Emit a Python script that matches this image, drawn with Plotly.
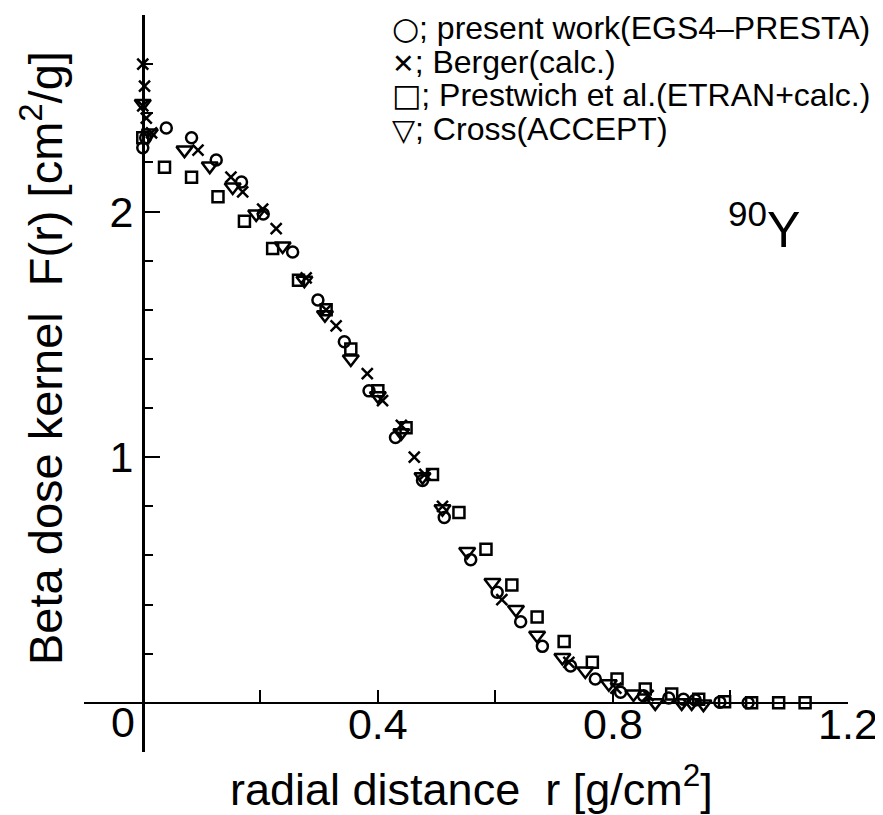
import plotly.graph_objects as go

# ---- data ----
r_present = [0.0, 0.005, 0.04, 0.083, 0.125, 0.168, 0.205, 0.255, 0.298, 0.343, 0.385, 0.43,
             0.476, 0.513, 0.558, 0.603, 0.643, 0.68, 0.728, 0.77, 0.813, 0.852, 0.895, 0.92,
             0.94, 0.982, 1.03]
F_present = [2.26, 2.30, 2.34, 2.30, 2.21, 2.12, 1.99, 1.835, 1.64, 1.47, 1.27, 1.08,
             0.905, 0.755, 0.583, 0.45, 0.33, 0.23, 0.15, 0.097, 0.043, 0.029, 0.02, 0.015,
             0.012, 0.003, 0.0]

r_berger = [0.0, 0.003, 0.0, 0.006, 0.015, 0.094, 0.15, 0.17, 0.204, 0.227, 0.278, 0.312,
            0.329, 0.382, 0.408, 0.44, 0.462, 0.48, 0.51, 0.611, 0.725, 0.805, 0.86]
F_berger = [2.60, 2.51, 2.43, 2.38, 2.32, 2.25, 2.14, 2.08, 2.01, 1.93, 1.73, 1.60,
            1.535, 1.34, 1.23, 1.13, 1.00, 0.93, 0.80, 0.42, 0.165, 0.06, 0.03]

r_prestwich = [0.0, 0.037, 0.083, 0.128, 0.173, 0.221, 0.265, 0.312, 0.354, 0.40, 0.448, 0.493,
               0.538, 0.584, 0.628, 0.671, 0.717, 0.765, 0.807, 0.855, 0.90, 0.946, 0.99,
               1.036, 1.082, 1.127]
F_prestwich = [2.30, 2.18, 2.14, 2.06, 1.96, 1.85, 1.72, 1.60, 1.44, 1.27, 1.12, 0.93,
               0.775, 0.625, 0.48, 0.35, 0.25, 0.165, 0.097, 0.056, 0.036, 0.015, 0.005,
               0.0, 0.0, 0.0]

r_cross = [0.0, 0.012, 0.071, 0.114, 0.153, 0.193, 0.238, 0.275, 0.31, 0.354, 0.40, 0.44,
           0.476, 0.51, 0.552, 0.595, 0.635, 0.671, 0.714, 0.753, 0.793, 0.835, 0.872,
           0.917, 0.934, 0.954]
F_cross = [2.44, 2.32, 2.25, 2.185, 2.10, 1.99, 1.86, 1.72, 1.58, 1.40, 1.25, 1.10,
           0.92, 0.79, 0.616, 0.49, 0.38, 0.275, 0.185, 0.13, 0.078, 0.036, 0.0,
           0.0, 0.0, -0.005]

legend_symbols = ["\u25CB", "\u2715", "\u25A1", "\u25BD"]
legend_labels = ["; present work(EGS4\u2013PRESTA)",
                 "; Berger(calc.)",
                 "; Prestwich et al.(ETRAN+calc.)",
                 "; Cross(ACCEPT)"]
x_ticks = [0.4, 0.8, 1.2]
y_ticks = [1, 2]

FONT = "Liberation Sans, Arial, Helvetica, sans-serif"
X_RANGE = [-0.1, 1.2]
Y_RANGE = [-0.2, 2.8]

# page body has an 8px margin; the figure is sized to fit the 883x815 window
W, H = 875, 807
OFF = 8
PL, PT, PW, PH = 84, 15, 764, 737   # plot area in window pixels

fig = go.Figure()

def add(r, f, symbol, size, name):
    fig.add_trace(go.Scatter(
        x=r, y=f, mode="markers", name=name, showlegend=False,
        marker=dict(symbol=symbol, size=size, color="black",
                    line=dict(color="black", width=2.5)),
        cliponaxis=False))

add(r_prestwich, F_prestwich, "square-open", 11, "Prestwich")
add(r_cross, F_cross, "triangle-down-open", 14, "Cross")
add(r_present, F_present, "circle-open", 11, "present")
add(r_berger, F_berger, "x-thin-open", 11, "Berger")

xpos_of_yaxis = (0 - X_RANGE[0]) / (X_RANGE[1] - X_RANGE[0])
ypos_of_xaxis = (0 - Y_RANGE[0]) / (Y_RANGE[1] - Y_RANGE[0])

fig.update_layout(
    width=W, height=H,
    margin=dict(l=PL - OFF, r=W - (PL - OFF) - PW, t=PT - OFF, b=H - (PT - OFF) - PH,
                autoexpand=False),
    paper_bgcolor="white", plot_bgcolor="white",
    font=dict(family=FONT, color="black", size=42),
    xaxis=dict(range=X_RANGE, anchor="free", position=ypos_of_xaxis,
               showgrid=False, zeroline=False, showline=True, linecolor="black", linewidth=2,
               tickmode="array", tickvals=x_ticks, ticktext=[str(v) for v in x_ticks],
               ticks="inside", ticklen=12, tickwidth=2, tickcolor="black",
               ticklabelstandoff=-16,
               tickfont=dict(size=43, family=FONT),
               minor=dict(ticks="inside", dtick=0.2, tick0=0, ticklen=12, tickwidth=2,
                          tickcolor="black")),
    yaxis=dict(range=Y_RANGE, anchor="free", position=xpos_of_yaxis,
               showgrid=False, zeroline=False, showline=True, linecolor="black", linewidth=2.5,
               tickmode="array", tickvals=y_ticks, ticktext=[str(v) for v in y_ticks],
               ticks="inside", ticklen=15, tickwidth=2, tickcolor="black",
               tickfont=dict(size=43, family=FONT),
               minor=dict(ticks="inside", dtick=0.2, tick0=0, ticklen=8, tickwidth=2,
                          tickcolor="black")),
)

def px_to_paper(px, py):
    return (px - PL) / PW, 1 - (py - PT) / PH

# origin label
fig.add_annotation(x=0, y=0, xref="x", yref="y", text="0", showarrow=False,
                   xanchor="right", yanchor="top", xshift=-6, yshift=7,
                   font=dict(size=43, family=FONT))

# axis titles
xt, yt = px_to_paper(471, 786)
fig.add_annotation(x=xt, y=yt, xref="paper", yref="paper",
                   text="radial distance  r [g/cm<sup>2</sup>]", showarrow=False,
                   xanchor="center", yanchor="middle", font=dict(size=45, family=FONT))
xt, yt = px_to_paper(42, 358)
fig.add_annotation(x=xt, y=yt, xref="paper", yref="paper",
                   text="Beta dose kernel  F(r) [cm<sup>2</sup>/g]", showarrow=False,
                   textangle=-90, xanchor="center", yanchor="middle",
                   font=dict(size=47, family=FONT))

# legend text block (symbol glyph + label in one text)
sym_sizes = [31, 27, 31, 30]
for i, (s, lab) in enumerate(zip(legend_symbols, legend_labels)):
    cy = 28 + 33.7 * i
    lx, ly = px_to_paper(390, cy)
    txt = '<span style="font-family:DejaVu Sans;font-size:%dpx">%s</span>%s' % (sym_sizes[i], s, lab)
    fig.add_annotation(x=lx, y=ly, xref="paper", yref="paper", text=txt, showarrow=False,
                       xanchor="left", yanchor="middle", font=dict(size=32, family=FONT))

# nuclide label
lx, ly = px_to_paper(726, 226)
fig.add_annotation(x=lx, y=ly, xref="paper", yref="paper",
                   text="<sup>90</sup>Y", showarrow=False,
                   xanchor="left", yanchor="middle", font=dict(size=50, family=FONT))

fig.write_html("out.html")
